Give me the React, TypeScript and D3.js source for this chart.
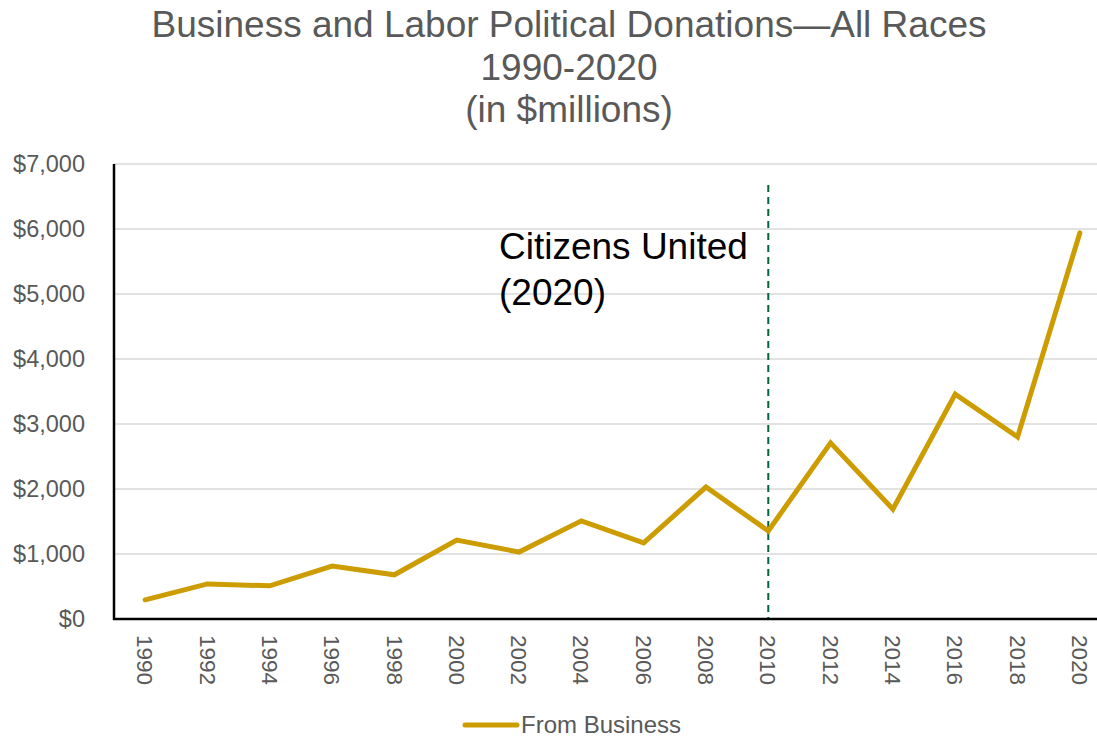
import React, { useEffect, useRef } from 'react';
import * as d3 from 'd3';

const years = ['1990', '1992', '1994', '1996', '1998', '2000', '2002', '2004', '2006', '2008', '2010', '2012', '2014', '2016', '2018', '2020'];
const fromBusiness = [295, 540, 510, 815, 680, 1215, 1030, 1510, 1170, 2030, 1355, 2710, 1690, 3460, 2800, 5940];
const yTicks = [0, 1000, 2000, 3000, 4000, 5000, 6000, 7000];
const titleLines = ['Business and Labor Political Donations\u2014All Races', '1990-2020', '(in $millions)'];
const annotationLines = ['Citizens United', '(2020)'];
const markerYear = '2010';
const seriesName = 'From Business';

const width = 1097;
const height = 736;
const margin = { top: 164, right: -14, bottom: 117, left: 114 };
const font = '"Liberation Sans", Arial, sans-serif';
const grey = '#595959';
const gold = '#CC9C00';

const App: React.FC = () => {
    const ref = useRef<SVGSVGElement>(null);

    useEffect(() => {
        const svg = d3.select(ref.current);
        svg.selectAll('*').remove();
        svg.attr('width', width).attr('height', height);

        const x = d3
            .scaleBand()
            .domain(years)
            .range([margin.left, width - margin.right])
            .padding(0);

        const y = d3
            .scaleLinear()
            .domain([0, 7000])
            .range([height - margin.bottom, margin.top]);

        const cx = (yr: string) => (x(yr) ?? 0) + x.bandwidth() / 2;

        // gridlines
        svg.append('g')
            .selectAll('line')
            .data(yTicks.slice(1))
            .enter()
            .append('line')
            .attr('x1', margin.left)
            .attr('x2', width)
            .attr('y1', (d) => y(d))
            .attr('y2', (d) => y(d))
            .attr('stroke', '#d9d9d9')
            .attr('stroke-width', 1.5);

        // y tick labels
        svg.append('g')
            .selectAll('text')
            .data(yTicks)
            .enter()
            .append('text')
            .attr('x', 85)
            .attr('y', (d) => y(d))
            .attr('dy', '0.35em')
            .attr('text-anchor', 'end')
            .style('font-family', font)
            .style('font-size', '23.5px')
            .attr('fill', grey)
            .text((d) => d3.format('$,')(d));

        // x tick labels (rotated)
        svg.append('g')
            .selectAll('text')
            .data(years)
            .enter()
            .append('text')
            .attr('transform', (d) => `translate(${cx(d)},${y(0) + 16}) rotate(90)`)
            .attr('dy', '0.35em')
            .attr('text-anchor', 'start')
            .style('font-family', font)
            .style('font-size', '22.5px')
            .attr('fill', grey)
            .text((d) => d);

        // marker line
        svg.append('line')
            .attr('x1', cx(markerYear))
            .attr('x2', cx(markerYear))
            .attr('y1', 185)
            .attr('y2', y(0))
            .attr('stroke', '#00673A')
            .attr('stroke-width', 2)
            .attr('stroke-dasharray', '7,5');

        // series line
        const line = d3
            .line<number>()
            .x((_, i) => cx(years[i]))
            .y((d) => y(d));

        svg.append('path')
            .datum(fromBusiness)
            .attr('d', line)
            .attr('fill', 'none')
            .attr('stroke', gold)
            .attr('stroke-width', 5)
            .attr('stroke-linejoin', 'miter')
            .attr('stroke-linecap', 'round');

        // axes
        svg.append('line')
            .attr('x1', margin.left)
            .attr('x2', margin.left)
            .attr('y1', margin.top)
            .attr('y2', y(0) + 1)
            .attr('stroke', '#000')
            .attr('stroke-width', 2.5);
        svg.append('line')
            .attr('x1', margin.left - 1)
            .attr('x2', width)
            .attr('y1', y(0))
            .attr('y2', y(0))
            .attr('stroke', '#000')
            .attr('stroke-width', 2.5);

        // title
        svg.append('g')
            .selectAll('text')
            .data(titleLines)
            .enter()
            .append('text')
            .attr('x', 569)
            .attr('y', (_, i) => 37 + i * 42.5)
            .attr('text-anchor', 'middle')
            .style('font-family', font)
            .style('font-size', '37px')
            .attr('fill', grey)
            .text((d) => d);

        // annotation
        svg.append('g')
            .selectAll('text')
            .data(annotationLines)
            .enter()
            .append('text')
            .attr('x', 499)
            .attr('y', (_, i) => 259 + i * 46)
            .style('font-family', font)
            .style('font-size', '37px')
            .attr('fill', '#000')
            .text((d) => d);

        // legend
        svg.append('line')
            .attr('x1', 465)
            .attr('x2', 517)
            .attr('y1', 725)
            .attr('y2', 725)
            .attr('stroke', gold)
            .attr('stroke-width', 5)
            .attr('stroke-linecap', 'round');
        svg.append('text')
            .attr('x', 521)
            .attr('y', 725)
            .attr('dy', '0.35em')
            .style('font-family', font)
            .style('font-size', '24px')
            .attr('fill', grey)
            .text(seriesName);
    }, []);

    return <svg ref={ref} style={{ position: 'absolute', left: 0, top: 0, display: 'block' }}></svg>;
};

export default App;
